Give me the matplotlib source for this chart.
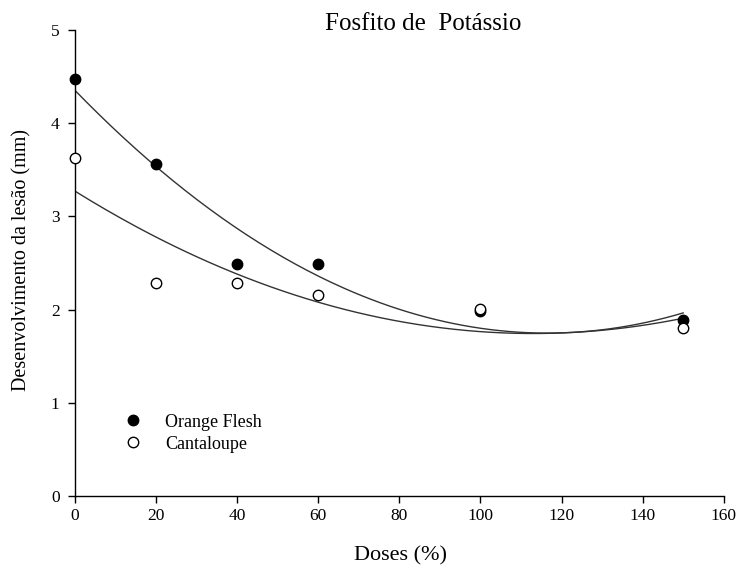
import numpy as np
import matplotlib
matplotlib.use("Agg")
import matplotlib.pyplot as plt

plt.rcParams['font.family'] = ['Liberation Serif', 'DejaVu Serif']

doses = [0, 20, 40, 60, 100, 150]
orange_flesh = [4.47, 3.56, 2.49, 2.49, 1.98, 1.89]
cantaloupe = [3.63, 2.29, 2.29, 2.16, 2.01, 1.80]

x_ticks = [0, 20, 40, 60, 80, 100, 120, 140, 160]
y_ticks = [0, 1, 2, 3, 4, 5]

fig = plt.figure(figsize=(7.52, 5.66), dpi=100)
ax = fig.add_axes([0.0997, 0.1237, 0.8627, 0.8233])

# quadratic trend lines fitted to each series
xs = np.linspace(0, 150, 200)
for ys in (orange_flesh, cantaloupe):
    coef = np.polyfit(doses, ys, 2)
    ax.plot(xs, np.polyval(coef, xs), color='#333333', lw=1.0, zorder=2)

ax.plot(doses, orange_flesh, 'o', ms=7.5, mfc='black', mec='black', mew=1,
        ls='none', label='Orange Flesh', zorder=3, clip_on=False)
ax.plot(doses, cantaloupe, 'o', ms=7.5, mfc='white', mec='black', mew=1,
        ls='none', label='Cantaloupe', zorder=4, clip_on=False)

ax.set_xlim(0, 160)
ax.set_ylim(0, 5)
ax.set_xticks(x_ticks)
ax.set_yticks(y_ticks)
ax.spines['top'].set_visible(False)
ax.spines['right'].set_visible(False)
for s in ('left', 'bottom'):
    ax.spines[s].set_linewidth(1.0)
ax.tick_params(direction='out', length=5, width=1, labelsize=12.5)
ax.tick_params(axis='y', pad=6)
ax.tick_params(axis='x', pad=4)

leg = ax.legend(loc='upper left', bbox_to_anchor=(0.061, 0.196), frameon=False,
                fontsize=13, handletextpad=1.3, labelspacing=0.28,
                handlelength=1.0, borderpad=0)

ax.text(0.537, 1.0, 'Fosfito de  Potássio', transform=ax.transAxes,
        ha='center', va='baseline', fontsize=18)
fig.text(401 / 752, 1 - 556 / 566, 'Doses (%)', ha='center', va='center',
         fontsize=16)
fig.text(22 / 752, 1 - 260 / 566, 'Desenvolvimento da lesão (mm)',
         rotation=90, ha='center', va='center', fontsize=14.5)

fig.savefig('out.png', dpi=100)
